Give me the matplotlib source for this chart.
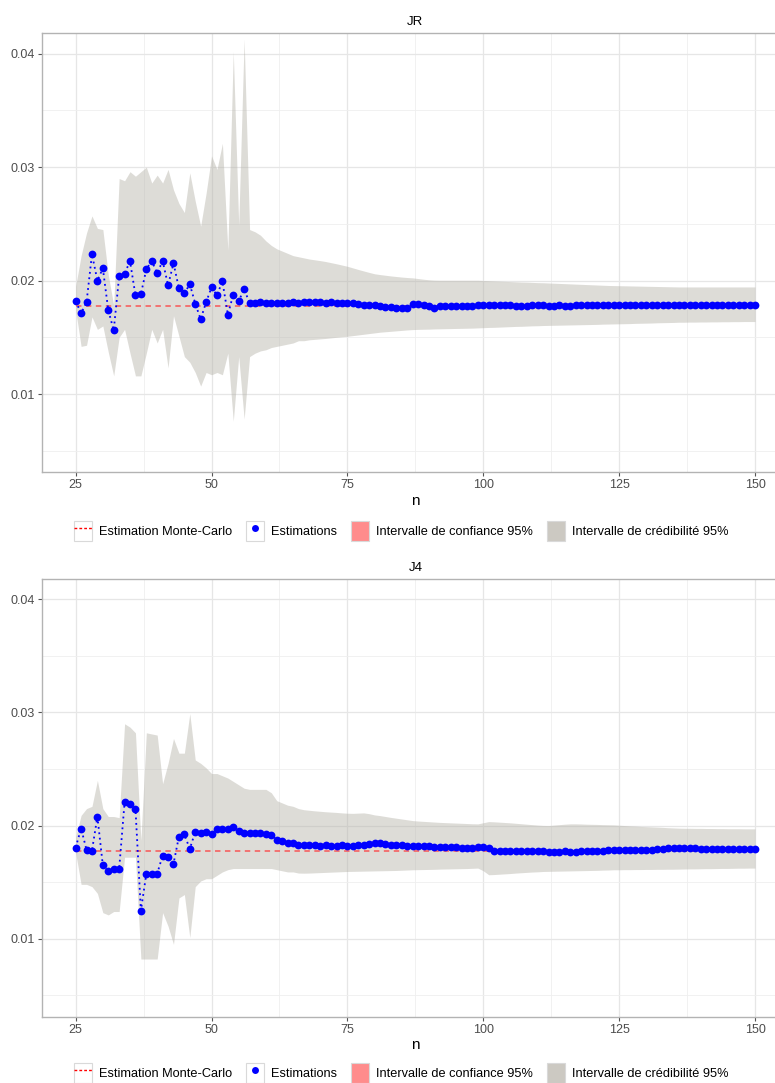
import numpy as np
import matplotlib
matplotlib.use('Agg')
import matplotlib.pyplot as plt
from matplotlib.lines import Line2D
from matplotlib.patches import Patch
from matplotlib.legend_handler import HandlerTuple

plt.rcParams['font.family'] = ['Liberation Sans', 'DejaVu Sans']

n = list(range(25, 151))
mc_value = 0.01778

# ---------------- JR ----------------
jr_est = [0.01818, 0.01712, 0.01809, 0.02232, 0.02000, 0.02109, 0.01739, 0.01562, 0.02038, 0.02062,
          0.02170, 0.01871, 0.01880, 0.02100, 0.02173, 0.02065, 0.02173, 0.01959, 0.02153, 0.01932,
          0.01888, 0.01968, 0.01797, 0.01660, 0.01809, 0.01941, 0.01871, 0.01994, 0.01700, 0.01877,
          0.01818, 0.01927, 0.01800,
          0.01805, 0.01808, 0.01803, 0.01806, 0.01804, 0.01802, 0.01805, 0.01807, 0.01806, 0.01808,
          0.01807, 0.01809, 0.01808, 0.01806, 0.01807, 0.01805, 0.01806,
          0.01804, 0.01800, 0.01795, 0.01788, 0.01783, 0.01781, 0.01776, 0.01770, 0.01766, 0.01762,
          0.01759, 0.01755,
          0.01795, 0.01790, 0.01782, 0.01775, 0.01762, 0.01772, 0.01778, 0.01779, 0.01777, 0.01778,
          0.01780, 0.01779, 0.01781,
          0.01783, 0.01786, 0.01785, 0.01784, 0.01786, 0.01782, 0.01780, 0.01779, 0.01779, 0.01781,
          0.01783, 0.01781, 0.01779, 0.01780, 0.01781, 0.01779, 0.01780, 0.01782, 0.01783, 0.01784,
          0.01785, 0.01786, 0.01784, 0.01785, 0.01786, 0.01785, 0.01784, 0.01786, 0.01787, 0.01786,
          0.01785, 0.01784, 0.01783, 0.01784, 0.01786, 0.01785, 0.01786, 0.01787, 0.01786, 0.01785,
          0.01784, 0.01785, 0.01786, 0.01785, 0.01784, 0.01785, 0.01786, 0.01785, 0.01784, 0.01785,
          0.01785]
jr_upper = [0.0195, 0.0222, 0.0242, 0.0257, 0.0246, 0.0245, 0.0205, 0.0178, 0.0290, 0.0288,
            0.0296, 0.0292, 0.0296, 0.0300, 0.0286, 0.0293, 0.0286, 0.0298, 0.0280, 0.0268,
            0.0260, 0.0295, 0.0270, 0.0248, 0.0277, 0.0310, 0.0298, 0.0321, 0.0227, 0.0402,
            0.0249, 0.0413, 0.0245, 0.0243, 0.0240, 0.0235, 0.0231, 0.0228, 0.0226, 0.0224,
            0.0222, 0.0221,
            0.02200, 0.02190, 0.02183, 0.02176, 0.02168, 0.02158, 0.02148, 0.02137, 0.02126, 0.02112,
            0.02098, 0.02085, 0.02072, 0.02060, 0.02053, 0.02047, 0.02041, 0.02036, 0.02031, 0.02027,
            0.02024, 0.02018, 0.02012, 0.02007, 0.02004, 0.02003, 0.02003, 0.02003, 0.02003, 0.02003,
            0.02003, 0.02003, 0.02003, 0.02001, 0.01999, 0.01997, 0.01995, 0.01993, 0.01991, 0.01989,
            0.01987, 0.01986, 0.01984, 0.01982, 0.01981, 0.01979, 0.01977, 0.01975, 0.01973, 0.01971,
            0.01969, 0.01967, 0.01965, 0.01963, 0.01961, 0.01959, 0.01957, 0.01956, 0.01955, 0.01954,
            0.01953, 0.01952, 0.01951, 0.01950, 0.01949, 0.01948, 0.01947, 0.01946, 0.01945, 0.01944,
            0.01944, 0.01944, 0.01944, 0.01944, 0.01944, 0.01944, 0.01944, 0.01944, 0.01944, 0.01944,
            0.01944, 0.01944, 0.01944, 0.01944]
jr_lower = [0.0174, 0.0142, 0.0143, 0.0168, 0.0157, 0.0160, 0.0137, 0.0116, 0.0150, 0.0157,
            0.0136, 0.0116, 0.0116, 0.0136, 0.0157, 0.0145, 0.0157, 0.0123, 0.0169, 0.0151,
            0.0133, 0.0128, 0.0119, 0.0107, 0.0119, 0.0117, 0.0119, 0.0117, 0.0136, 0.0076,
            0.0133, 0.0078, 0.0133, 0.0136, 0.0138, 0.0139, 0.0141, 0.0142, 0.0143, 0.0144,
            0.0145, 0.0147,
            0.01470, 0.01478, 0.01482, 0.01486, 0.01490, 0.01495, 0.01500, 0.01505, 0.01509, 0.01515,
            0.01521, 0.01527, 0.01533, 0.01539, 0.01545, 0.01549, 0.01553, 0.01557, 0.01561, 0.01565,
            0.01568, 0.01570, 0.01571, 0.01572, 0.01574, 0.01575, 0.01576, 0.01577, 0.01578, 0.01579,
            0.01580, 0.01581, 0.01583, 0.01585, 0.01587, 0.01588, 0.01590, 0.01592, 0.01594, 0.01596,
            0.01597, 0.01599, 0.01601, 0.01602, 0.01604, 0.01605, 0.01606, 0.01607, 0.01608, 0.01609,
            0.01610, 0.01611, 0.01612, 0.01613, 0.01614, 0.01616, 0.01617, 0.01618, 0.01619, 0.01620,
            0.01621, 0.01623, 0.01624, 0.01625, 0.01626, 0.01628, 0.01629, 0.01630, 0.01631, 0.01633,
            0.01633, 0.01634, 0.01634, 0.01635, 0.01635, 0.01636, 0.01636, 0.01637, 0.01637, 0.01638,
            0.01638, 0.01639, 0.01639, 0.01639]

# ---------------- J4 ----------------
j4_est = [0.01806, 0.01974, 0.01785, 0.01779, 0.02079, 0.01647, 0.01600, 0.01615, 0.01615, 0.02206,
          0.02188, 0.02150, 0.01247, 0.01574, 0.01574, 0.01574, 0.01735, 0.01726, 0.01662, 0.01903,
          0.01921, 0.01794, 0.01944, 0.01938, 0.01944, 0.01926, 0.01968, 0.01968, 0.01974, 0.01985,
          0.01956, 0.01938, 0.01938, 0.01938, 0.01938, 0.01926, 0.01918, 0.01874, 0.01865, 0.01850,
          0.01850, 0.01829,
          0.01830, 0.01825, 0.01824, 0.01823, 0.01824, 0.01822, 0.01823, 0.01824, 0.01822, 0.01823,
          0.01825, 0.01830, 0.01838,
          0.01845, 0.01843, 0.01838,
          0.01832, 0.01828, 0.01825, 0.01820, 0.01818, 0.01817, 0.01818, 0.01815, 0.01812, 0.01810,
          0.01808, 0.01807, 0.01808, 0.01806, 0.01805, 0.01806, 0.01807, 0.01808,
          0.01800,
          0.01778, 0.01777, 0.01778, 0.01776, 0.01777, 0.01775, 0.01776, 0.01774, 0.01773, 0.01772,
          0.01770, 0.01769, 0.01770, 0.01771, 0.01769, 0.01770, 0.01772, 0.01774,
          0.01776, 0.01778, 0.01779, 0.01780, 0.01781, 0.01782, 0.01783, 0.01784, 0.01784, 0.01785,
          0.01786, 0.01787, 0.01790, 0.01795,
          0.01800, 0.01803, 0.01803, 0.01802, 0.01803, 0.01801,
          0.01797, 0.01795, 0.01793, 0.01792, 0.01791, 0.01792, 0.01791, 0.01792, 0.01791, 0.01790,
          0.01791]
j4_upper = [0.0190, 0.0209, 0.0215, 0.0217, 0.0240, 0.0215, 0.0208, 0.0208, 0.0207, 0.0290,
            0.0287, 0.0282, 0.0187, 0.0282, 0.0281, 0.0280, 0.0237, 0.0255, 0.0277, 0.0264,
            0.0264, 0.0299, 0.0258, 0.0255, 0.0251, 0.0246, 0.0246, 0.0244, 0.0242, 0.0239,
            0.0236, 0.0233, 0.0232, 0.0232, 0.0232, 0.0232, 0.0229, 0.0222, 0.0220, 0.0218,
            0.0217, 0.0215,
            0.02140, 0.02135, 0.02130, 0.02126, 0.02122, 0.02119, 0.02116, 0.02112, 0.02109, 0.02108,
            0.02110, 0.02112, 0.02105, 0.02094, 0.02088, 0.02080, 0.02072, 0.02065, 0.02058, 0.02051,
            0.02044, 0.02040, 0.02037, 0.02034, 0.02031, 0.02028, 0.02026, 0.02024, 0.02022, 0.02020,
            0.02018, 0.02016, 0.02015, 0.02025, 0.02035, 0.02033, 0.02030, 0.02027, 0.02024, 0.02020,
            0.02016, 0.02012, 0.02008, 0.02004, 0.02001, 0.02000, 0.02004, 0.02008, 0.02012, 0.02015,
            0.02015, 0.02014, 0.02012, 0.02011, 0.02010, 0.02008, 0.02007, 0.02006, 0.02003, 0.02000,
            0.01997, 0.01995, 0.01992, 0.01990, 0.01988, 0.01986, 0.01984, 0.01981, 0.01979, 0.01977,
            0.01976, 0.01976, 0.01975, 0.01975, 0.01974, 0.01974, 0.01973, 0.01973, 0.01972, 0.01972,
            0.01972, 0.01971, 0.01971, 0.01971]
j4_lower = [0.0176, 0.0148, 0.0148, 0.0146, 0.0140, 0.0123, 0.0121, 0.0124, 0.0124, 0.0172,
            0.0172, 0.0172, 0.0082, 0.0082, 0.0082, 0.0082, 0.0123, 0.0111, 0.0095, 0.0136,
            0.0139, 0.0101, 0.0146, 0.0151, 0.0153, 0.0153, 0.0156, 0.0159, 0.0161, 0.0162,
            0.0162, 0.0162, 0.0162, 0.0162, 0.0162, 0.0162, 0.0162, 0.0161, 0.0160, 0.0159,
            0.0159, 0.0158,
            0.01579, 0.01580, 0.01582, 0.01584, 0.01586, 0.01588, 0.01590, 0.01592, 0.01594, 0.01595,
            0.01596, 0.01597, 0.01598, 0.01599, 0.01600, 0.01601, 0.01602, 0.01603, 0.01605, 0.01607,
            0.01609, 0.01610, 0.01611, 0.01612, 0.01613, 0.01615, 0.01616, 0.01617, 0.01618, 0.01619,
            0.01620, 0.01622, 0.01624, 0.01600, 0.01565, 0.01567, 0.01570, 0.01573, 0.01576, 0.01580,
            0.01583, 0.01586, 0.01589, 0.01591, 0.01594, 0.01595, 0.01596, 0.01597, 0.01598, 0.01599,
            0.01600, 0.01601, 0.01602, 0.01603, 0.01604, 0.01606, 0.01607, 0.01609, 0.01609, 0.01610,
            0.01610, 0.01611, 0.01611, 0.01612, 0.01612, 0.01613, 0.01613, 0.01614, 0.01614, 0.01615,
            0.01616, 0.01617, 0.01617, 0.01618, 0.01619, 0.01619, 0.01620, 0.01621, 0.01621, 0.01622,
            0.01623, 0.01623, 0.01624, 0.01624]

labels = ['Estimation Monte-Carlo', 'Estimations',
          'Intervalle de confiance 95%', 'Intervalle de crédibilité 95%']

W, H = 775, 1083
fig = plt.figure(figsize=(W / 100, H / 100), dpi=100)

band_col = '#B5B2A8'
red_col = '#F46A6A'


def panel(top_px, bottom_px, title, est, lower, upper, legend_y):
    left, right = 41.7, 789.0
    ax = fig.add_axes([left / W, 1 - bottom_px / H, (right - left) / W, (bottom_px - top_px) / H])
    ax.fill_between(n, lower, upper, color=band_col, alpha=0.45, linewidth=0, zorder=2)
    ax.plot([n[0], n[-1]], [mc_value, mc_value], color=red_col, linestyle=(0, (3, 2.5)), lw=1.3, zorder=3)
    ax.plot(n, est, color='#0000FF', linestyle=(0, (1, 2)), lw=1.3, zorder=4)
    ax.plot(n, est, 'o', color='#0000FF', markersize=5.6, markeredgewidth=0, zorder=5)

    ax.set_xlim(18.75, 156.25)
    ax.set_ylim(0.0031, 0.0418)
    ax.set_xticks([25, 50, 75, 100, 125, 150])
    ax.set_xticks([37.5, 62.5, 87.5, 112.5, 137.5], minor=True)
    ax.set_yticks([0.01, 0.02, 0.03, 0.04])
    ax.set_yticklabels(['0.01', '0.02', '0.03', '0.04'])
    ax.set_yticks([0.005, 0.015, 0.025, 0.035], minor=True)
    ax.grid(which='major', color='#E6E6E6', lw=0.9)
    ax.grid(which='minor', color='#EFEFEF', lw=0.6)
    ax.set_axisbelow(True)
    for s in ax.spines.values():
        s.set_color('#B3B3B3')
        s.set_linewidth(1.0)
    ax.tick_params(which='major', length=3, width=0.8, color='#555555', labelsize=9,
                   labelcolor='#4D4D4D', pad=2)
    ax.tick_params(which='minor', length=0)
    ax.set_xlabel('n', fontsize=11, labelpad=2)
    ax.set_title(title, fontsize=9.5, pad=6)

    key_box = Patch(facecolor='white', edgecolor='#D9D9D9', linewidth=0.8)
    h_mc = (key_box, Line2D([], [], color='#FF0000', linestyle=(0, (2, 1.5)), lw=1.0))
    h_est = (key_box, Line2D([], [], marker='o', color='#0000FF', linestyle='none',
                             markersize=5, markeredgewidth=0))
    h_conf = Patch(facecolor='#FF8C8C', edgecolor='#D9D9D9', linewidth=0.8)
    h_cred = Patch(facecolor='#CCC9C2', edgecolor='#D9D9D9', linewidth=0.8)
    fig.legend([h_mc, h_est, h_conf, h_cred], labels, loc='center',
               bbox_to_anchor=(401 / W, 1 - legend_y / H), ncol=4, frameon=False,
               fontsize=9.2, handlelength=1.45, handleheight=2.0, handletextpad=0.5,
               columnspacing=1.1, handler_map={tuple: HandlerTuple(ndivide=1, pad=0)})
    return ax


panel(33.3, 472.3, 'JR', jr_est, jr_lower, jr_upper, 531)
panel(579.0, 1016.7, 'J4', j4_est, j4_lower, j4_upper, 1073)

fig.savefig('out.png', dpi=100)
